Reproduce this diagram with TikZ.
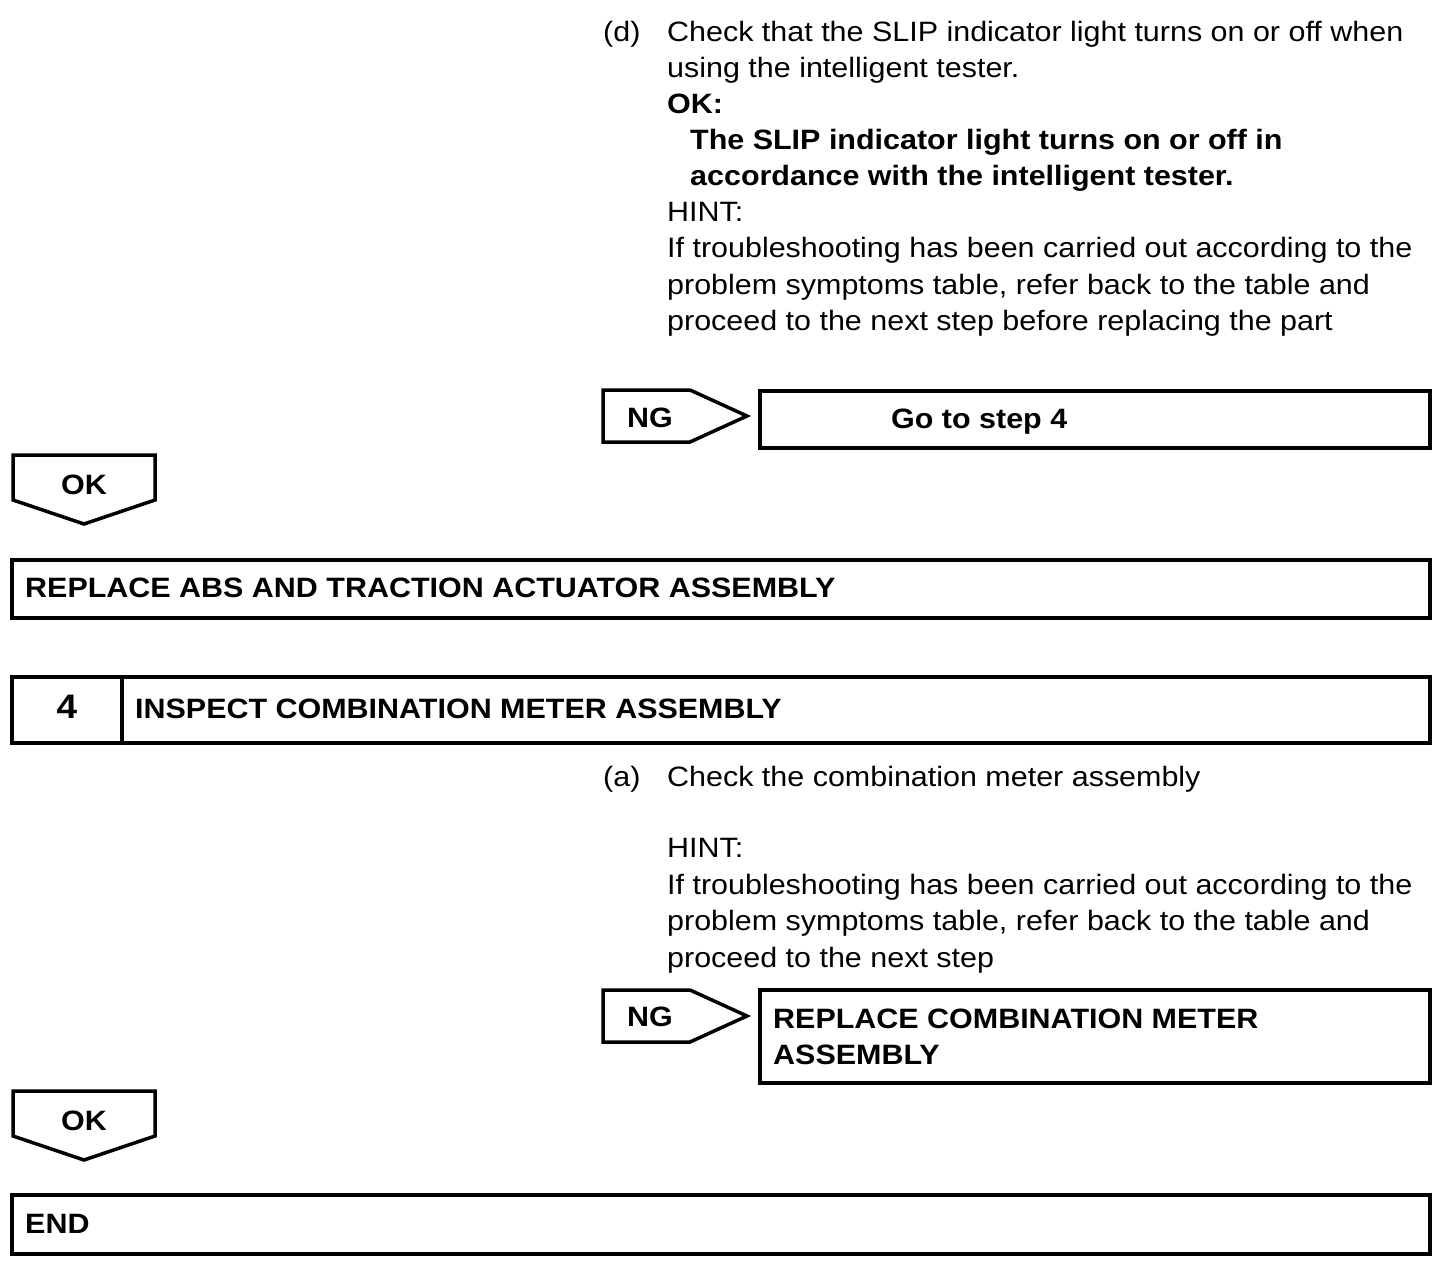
\documentclass[tikz,border=0pt]{standalone}
\usepackage{fontspec}
\setmainfont[FakeStretch=1.088]{Liberation Sans}
\begin{document}
\begin{tikzpicture}[x=1pt,y=-1pt,
  frame/.style={draw=black,line width=3.5pt,line join=miter},
  txt/.style={anchor=base west,inner sep=0pt,font=\fontsize{28}{36}\selectfont},
  btxt/.style={txt,font=\fontsize{28}{36}\selectfont\bfseries}]
\useasboundingbox[fill=white] (0,0) rectangle (1456,1268);

% --- upper instructions
\node[txt] (d)  at (603,42)  {(d)};
\node[txt] (l1) at (667,42)  {Check that the SLIP indicator light turns on or off when};
\node[txt] (l2) at (667,78)  {using the intelligent tester.};
\node[btxt] (l3) at (667,114) {OK:};
\node[btxt] (l4) at (690,150) {The SLIP indicator light turns on or off in};
\node[btxt] (l5) at (690,186) {accordance with the intelligent tester.};
\node[txt] (l6) at (667,222) {HINT:};
\node[txt] (l7) at (667,258) {If troubleshooting has been carried out according to the};
\node[txt] (l8) at (667,294) {problem symptoms table, refer back to the table and};
\node[txt] (l9) at (667,330) {proceed to the next step before replacing the part};

% --- NG 1
\draw[frame] (603,390) -- (690,390) -- (747,416) -- (690,442) -- (603,442) -- cycle;
\node[btxt] (ng1t) at (627,427) {NG};
\draw[frame] (760,391) rectangle (1430,448);
\node[btxt] (goto) at (891,428) {Go to step 4};

% --- OK 1
\draw[frame] (13,455) -- (155,455) -- (155,500) -- (84,524) -- (13,500) -- cycle;
\node[btxt] (ok1t) at (61,494) {OK};

% --- replace ABS
\draw[frame] (12,560) rectangle (1430,618);
\node[btxt] (rabs) at (25,597) {REPLACE ABS AND TRACTION ACTUATOR ASSEMBLY};

% --- step 4
\draw[frame] (12,677) rectangle (1430,743);
\draw[frame] (122,677) -- (122,743);
\node[btxt,font=\fontsize{34}{36}\selectfont\bfseries] (n4) at (67,718) [anchor=base] {4};
\node[btxt] (insp) at (135,718) {INSPECT COMBINATION METER ASSEMBLY};

% --- lower instructions
\node[txt] (a)  at (603,786) {(a)};
\node[txt] (m1) at (667,786) {Check the combination meter assembly};
\node[txt] (m2) at (667,857) {HINT:};
\node[txt] (m3) at (667,894) {If troubleshooting has been carried out according to the};
\node[txt] (m4) at (667,930) {problem symptoms table, refer back to the table and};
\node[txt] (m5) at (667,967) {proceed to the next step};

% --- NG 2
\draw[frame] (603,990) -- (690,990) -- (747,1016) -- (690,1042) -- (603,1042) -- cycle;
\node[btxt] (ng2t) at (627,1026) {NG};
\draw[frame] (760,990) rectangle (1430,1083);
\node[btxt] (rc1) at (773,1028) {REPLACE COMBINATION METER};
\node[btxt] (rc2) at (773,1064) {ASSEMBLY};

% --- OK 2
\draw[frame] (13,1091) -- (155,1091) -- (155,1136) -- (84,1160) -- (13,1136) -- cycle;
\node[btxt] (ok2t) at (61,1130) {OK};

% --- END
\draw[frame] (12,1195) rectangle (1430,1254);
\node[btxt] (endt) at (25,1233) {END};
\end{tikzpicture}
\end{document}
